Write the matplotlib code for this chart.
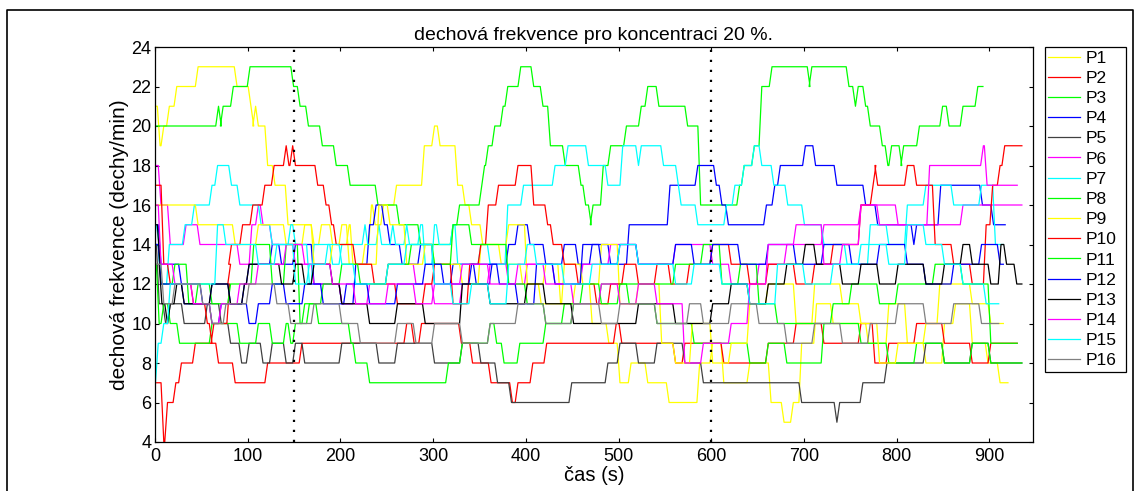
import matplotlib
matplotlib.use('Agg')
import matplotlib.pyplot as plt
from matplotlib.lines import Line2D

plt.rcParams['font.family'] = ['Liberation Sans', 'DejaVu Sans']

# times (s) where the breathing rate changes, and the new rate (dechy/min)
p1_t = [0, 4, 8, 14, 22, 45, 87, 102, 105, 107, 110, 120, 128, 142, 170, 178, 190, 200, 208, 225, 232, 236, 245, 259, 289, 300, 306, 325, 333, 340, 352, 372, 395, 420, 436, 452, 470, 488, 500, 512, 530, 553, 586, 600, 612, 640, 663, 677, 687, 696, 712, 730, 768, 790, 810, 830, 850, 862, 880, 897, 910, 920]
p1_v = [21, 19, 20, 21, 22, 23, 22, 21, 20, 21, 20, 18, 17, 15, 14, 15, 14, 15, 13, 14, 16, 15, 16, 17, 19, 20, 19, 17, 16, 15, 14, 13, 12, 13, 11, 12, 10, 9, 7, 8, 7, 6, 8, 9, 7, 8, 6, 5, 6, 9, 11, 10, 9, 11, 9, 8, 10, 11, 9, 8, 7, 7]

p2_t = [0, 8, 12, 21, 27, 42, 67, 85, 120, 157, 270, 278, 286, 329, 341, 361, 384, 390, 406, 421, 496, 502, 560, 570, 612, 660, 690, 720, 760, 775, 790, 820, 850, 880, 900, 930]
p2_v = [7, 4, 6, 7, 8, 9, 8, 7, 8, 9, 10, 9, 10, 9, 8, 7, 6, 7, 8, 9, 10, 9, 8, 9, 8, 9, 10, 9, 10, 8, 9, 10, 9, 8, 9, 9]

p3_t = [0, 67, 70, 72, 83, 101, 148, 155, 164, 179, 194, 209, 239, 262, 285, 320, 327, 351, 354, 358, 365, 374, 379, 393, 407, 417, 425, 441, 458, 463, 469, 471, 482, 490, 507, 523, 530, 542, 573, 587, 629, 634, 645, 653, 664, 705, 707, 747, 754, 757, 765, 770, 783, 789, 793, 804, 806, 823, 848, 855, 870, 886, 893]
p3_v = [20, 21, 20, 21, 22, 23, 22, 21, 20, 19, 18, 17, 16, 15, 14, 15, 16, 17, 18, 19, 20, 21, 22, 23, 22, 21, 19, 18, 17, 16, 15, 16, 18, 19, 20, 21, 22, 21, 20, 16, 17, 18, 19, 22, 23, 22, 23, 22, 21, 22, 21, 20, 19, 18, 19, 18, 19, 20, 21, 20, 21, 22, 22]

p4_t = [0, 5, 27, 50, 60, 70, 95, 100, 125, 135, 150, 170, 200, 215, 230, 237, 246, 252, 265, 285, 300, 320, 345, 362, 380, 390, 403, 420, 440, 455, 470, 490, 510, 554, 584, 604, 610, 617, 658, 667, 673, 700, 711, 734, 765, 778, 817, 820, 846, 891, 903, 917]
p4_v = [15, 13, 12, 11, 10, 11, 12, 13, 14, 13, 14, 12, 11, 13, 15, 16, 15, 14, 13, 14, 12, 13, 12, 13, 14, 15, 14, 13, 14, 13, 14, 13, 15, 17, 18, 17, 16, 15, 16, 17, 18, 19, 18, 17, 16, 15, 14, 15, 17, 16, 15, 15]

p5_t = [0, 3, 10, 15, 30, 55, 70, 80, 92, 100, 115, 125, 140, 150, 160, 200, 240, 260, 300, 330, 350, 368, 383, 448, 487, 500, 520, 540, 570, 590, 600, 696, 734, 737, 762, 788, 830, 850, 880, 900, 935]
p5_v = [14, 11, 10, 11, 10, 11, 10, 9, 8, 9, 8, 9, 8, 9, 8, 9, 8, 9, 8, 9, 8, 7, 6, 7, 8, 9, 8, 9, 8, 7, 7, 6, 5, 6, 7, 8, 9, 8, 9, 8, 8]

p6_t = [0, 5, 15, 32, 47, 90, 103, 110, 115, 125, 150, 170, 200, 230, 250, 280, 300, 330, 360, 380, 400, 430, 460, 490, 520, 560, 600, 620, 650, 680, 720, 760, 800, 840, 870, 935]
p6_v = [18, 16, 14, 15, 14, 13, 15, 16, 15, 14, 13, 12, 11, 12, 13, 12, 11, 12, 13, 12, 13, 12, 13, 14, 13, 14, 13, 12, 13, 14, 15, 16, 15, 15, 16, 16]

p7_t = [0, 3, 5, 14, 31, 41, 60, 66, 81, 90, 113, 125, 145, 150, 165, 170, 190, 200, 225, 228, 240, 243, 255, 258, 270, 273, 285, 290, 300, 305, 320, 325, 350, 360, 379, 396, 430, 444, 466, 487, 503, 520, 523, 547, 563, 566, 584, 615, 624, 634, 645, 653, 666, 681, 699, 720, 745, 770, 790, 810, 830, 860, 890, 905, 915]
p7_v = [15, 14, 12, 14, 15, 16, 17, 18, 17, 16, 15, 14, 15, 14, 12, 14, 13, 14, 15, 14, 15, 14, 15, 14, 15, 14, 15, 13, 15, 14, 15, 13, 14, 13, 16, 17, 18, 19, 18, 17, 19, 18, 19, 18, 17, 16, 15, 16, 17, 18, 19, 18, 17, 16, 15, 14, 13, 15, 14, 16, 17, 16, 17, 14, 14]

p8_t = [0, 3, 8, 15, 25, 60, 90, 110, 125, 140, 145, 150, 160, 175, 210, 215, 230, 315, 330, 360, 367, 375, 392, 420, 450, 480, 510, 540, 580, 640, 660, 680, 720, 760, 790, 820, 850, 880, 900, 935]
p8_v = [13, 10, 11, 10, 9, 10, 9, 10, 9, 10, 9, 10, 11, 10, 9, 8, 7, 8, 9, 10, 9, 8, 9, 10, 11, 12, 11, 10, 9, 8, 9, 8, 10, 9, 8, 9, 8, 9, 8, 8]

p9_t = [0, 45, 85, 110, 140, 160, 170, 190, 208, 212, 240, 252, 270, 290, 300, 330, 350, 380, 400, 415, 440, 460, 480, 500, 520, 545, 560, 578, 600, 620, 640, 660, 690, 710, 740, 760, 780, 800, 830, 845, 880, 900, 915]
p9_v = [16, 15, 14, 15, 14, 15, 13, 14, 15, 13, 16, 15, 13, 14, 13, 12, 14, 15, 12, 11, 13, 12, 14, 11, 12, 9, 8, 10, 8, 9, 11, 12, 10, 12, 11, 10, 8, 9, 10, 12, 11, 10, 10]

p10_t = [0, 8, 15, 40, 55, 60, 62, 79, 80, 81, 93, 104, 117, 127, 140, 143, 147, 150, 174, 183, 189, 194, 215, 235, 260, 290, 300, 320, 338, 350, 358, 369, 390, 407, 422, 428, 440, 455, 475, 490, 505, 520, 540, 555, 575, 600, 620, 640, 660, 690, 710, 730, 760, 773, 776, 778, 810, 820, 840, 860, 880, 895, 902, 910, 915, 935]
p10_v = [17, 13, 12, 11, 10, 9, 10, 12, 13, 14, 15, 16, 17, 18, 19, 18, 19, 18, 17, 16, 15, 14, 13, 12, 11, 12, 13, 11, 13, 14, 16, 17, 18, 16, 15, 14, 13, 12, 11, 12, 13, 12, 13, 12, 13, 14, 13, 12, 13, 12, 13, 14, 16, 17, 18, 17, 18, 17, 14, 13, 12, 15, 17, 18, 19, 19]

p11_t = [0, 5, 20, 35, 45, 60, 80, 105, 125, 140, 155, 165, 180, 200, 220, 250, 275, 300, 320, 340, 380, 400, 420, 440, 460, 480, 500, 560, 590, 610, 630, 650, 670, 730, 750, 780, 800, 840, 870, 900, 930]
p11_v = [14, 12, 13, 11, 12, 11, 12, 14, 12, 14, 10, 11, 12, 13, 12, 13, 14, 13, 15, 14, 12, 11, 10, 11, 12, 11, 12, 13, 14, 12, 13, 11, 10, 11, 12, 11, 12, 13, 12, 9, 9]

p12_t = [0, 5, 30, 60, 80, 100, 110, 125, 140, 160, 180, 205, 230, 260, 290, 310, 340, 370, 390, 410, 430, 460, 480, 500, 520, 560, 580, 600, 630, 660, 690, 720, 750, 780, 810, 830, 860, 890, 910, 915]
p12_v = [14, 12, 11, 12, 11, 10, 11, 12, 11, 12, 11, 12, 11, 12, 13, 12, 13, 12, 11, 13, 12, 14, 13, 14, 13, 14, 13, 14, 13, 14, 13, 14, 13, 14, 13, 12, 13, 14, 13, 13]

p13_t = [0, 4, 6, 12, 15, 22, 30, 60, 80, 95, 100, 135, 150, 160, 170, 190, 200, 230, 260, 290, 330, 360, 400, 420, 450, 520, 560, 600, 620, 640, 660, 680, 700, 712, 740, 760, 780, 800, 830, 850, 870, 880, 900, 911, 917, 928, 935]
p13_v = [15, 13, 11, 10, 11, 12, 11, 12, 11, 12, 13, 12, 13, 12, 13, 12, 11, 10, 11, 10, 12, 11, 12, 11, 10, 11, 10, 11, 12, 11, 12, 13, 14, 13, 12, 13, 12, 13, 12, 13, 14, 13, 12, 14, 13, 12, 12]

p14_t = [0, 5, 20, 40, 60, 70, 90, 110, 140, 160, 190, 215, 250, 280, 300, 330, 360, 390, 420, 450, 480, 500, 520, 540, 570, 590, 620, 640, 660, 690, 720, 740, 760, 780, 834, 892, 896, 920, 930]
p14_v = [16, 13, 12, 11, 10, 11, 12, 13, 14, 13, 12, 11, 12, 11, 12, 13, 12, 13, 12, 11, 12, 11, 12, 11, 8, 9, 10, 12, 14, 15, 13, 14, 16, 15, 18, 19, 17, 17, 17]

p15_t = [0, 2, 8, 15, 66, 75, 110, 130, 150, 165, 185, 200, 215, 250, 270, 300, 320, 340, 360, 380, 400, 410, 440, 470, 500, 520, 560, 580, 610, 640, 670, 700, 730, 760, 790, 810, 830, 850, 870, 895, 910]
p15_v = [7, 9, 10, 12, 15, 14, 13, 14, 12, 13, 14, 13, 12, 13, 14, 12, 11, 12, 11, 13, 14, 13, 12, 13, 14, 13, 12, 13, 12, 11, 13, 12, 13, 14, 13, 15, 14, 13, 12, 11, 11]

p16_t = [0, 8, 20, 50, 60, 75, 100, 130, 145, 170, 200, 220, 260, 280, 300, 330, 360, 390, 420, 450, 480, 500, 540, 575, 590, 620, 650, 680, 710, 740, 770, 800, 830, 860, 890, 910]
p16_v = [13, 11, 12, 11, 10, 11, 12, 11, 10, 11, 10, 9, 10, 9, 10, 9, 10, 11, 10, 11, 10, 11, 10, 11, 10, 11, 10, 9, 10, 9, 10, 11, 10, 11, 10, 10]

labels = ['P%d' % i for i in range(1, 17)]
times = [p1_t, p2_t, p3_t, p4_t, p5_t, p6_t, p7_t, p8_t, p9_t, p10_t, p11_t, p12_t, p13_t, p14_t, p15_t, p16_t]
values = [p1_v, p2_v, p3_v, p4_v, p5_v, p6_v, p7_v, p8_v, p9_v, p10_v, p11_v, p12_v, p13_v, p14_v, p15_v, p16_v]
colors = ['#ffff00', '#ff0000', '#00ff00', '#0000ff', '#404040', '#ff00ff', '#00ffff',
          '#00ff00', '#ffff00', '#ff0000', '#00ff00', '#0000ff', '#000000', '#ff00ff',
          '#00ffff', '#808080']


def ramp(t, v, dt=1.5):
    # sampled data: each change takes one short sample step, not a vertical jump
    xs, ys = [t[0]], [v[0]]
    for i in range(1, len(t)):
        if v[i] != v[i - 1]:
            xs += [t[i] - dt, t[i] + dt]
            ys += [v[i - 1], v[i]]
        else:
            xs.append(t[i])
            ys.append(v[i])
    return xs, ys


fig = plt.figure(figsize=(11.34, 4.91), dpi=100)
ax = fig.add_axes([155/1134, 1-442/491, (1033-155)/1134, (442-47)/491])

for t, v, c, lab in zip(times, values, colors, labels):
    xs, ys = ramp(t, v)
    ax.plot(xs, ys, color=c, lw=0.9, label=lab)

for xv in [150, 600]:
    ax.axvline(xv, color='black', ls=(0, (1, 3.5)), lw=1.6)

ax.set_xlim(0, 947)
ax.set_ylim(4, 24)
ax.set_xticks(range(0, 1000, 100))
ax.set_yticks(range(4, 25, 2))
ax.tick_params(direction='in', top=True, right=True, labelsize=13, length=3)
ax.tick_params(axis='x', pad=4)
ax.tick_params(axis='y', pad=2.5)
for s in ax.spines.values():
    s.set_linewidth(0.9)

ax.set_title('dechová frekvence pro koncentraci 20 %.', fontsize=14, pad=5)
ax.set_xlabel('čas (s)', fontsize=14.5, labelpad=1)
ax.set_ylabel('dechová frekvence (dechy/min)', fontsize=15, labelpad=2)

leg = ax.legend(loc='upper left',
                bbox_to_anchor=(1045/1134, 1-441/491, (1126-1045)/1134, (441-47)/491),
                bbox_transform=fig.transFigure, mode='expand', fontsize=12.5,
                handlelength=1.8, labelspacing=0.29, borderaxespad=0, fancybox=False,
                framealpha=1, edgecolor='black', borderpad=0.2, handletextpad=0.35)
leg.get_frame().set_linewidth(0.9)

# outer frame of the exported figure
fig.add_artist(Line2D([7/1134, 7/1134, 1133/1134, 1133/1134], [0, 1-10/491, 1-10/491, 0],
                      transform=fig.transFigure, color='black', lw=1.2))

fig.savefig('out.png', dpi=100)
